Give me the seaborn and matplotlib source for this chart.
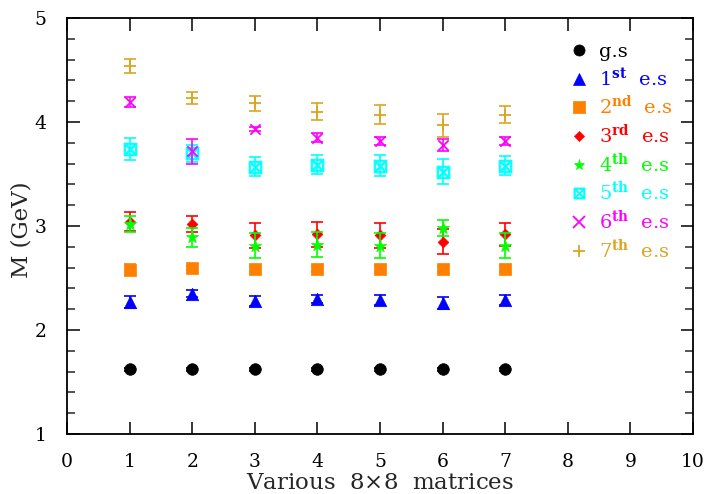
import numpy as np
import pandas as pd
import seaborn as sns
import matplotlib
matplotlib.use("Agg")
import matplotlib.pyplot as plt
from matplotlib.lines import Line2D

# Mass estimates (GeV) for the ground state and excited states,
# obtained from seven different 8x8 correlation matrices.
matrices = [1, 2, 3, 4, 5, 6, 7]

gs = [1.62, 1.62, 1.62, 1.62, 1.62, 1.62, 1.62]
gs_err = [0.01, 0.01, 0.01, 0.01, 0.01, 0.01, 0.01]

es1 = [2.27, 2.35, 2.28, 2.30, 2.29, 2.26, 2.29]
es1_err = [0.06, 0.03, 0.05, 0.04, 0.05, 0.06, 0.05]

es2 = [2.58, 2.60, 2.59, 2.59, 2.59, 2.59, 2.59]
es2_err = [0.05, 0.02, 0.03, 0.03, 0.03, 0.03, 0.03]

es3 = [3.04, 3.02, 2.91, 2.92, 2.91, 2.85, 2.92]
es3_err = [0.09, 0.08, 0.12, 0.12, 0.12, 0.12, 0.11]

es4 = [3.02, 2.89, 2.81, 2.82, 2.81, 2.98, 2.81]
es4_err = [0.08, 0.09, 0.12, 0.12, 0.12, 0.08, 0.12]

es5 = [3.74, 3.70, 3.57, 3.59, 3.58, 3.52, 3.58]
es5_err = [0.11, 0.08, 0.09, 0.09, 0.10, 0.12, 0.09]

es6 = [4.19, 3.72, 3.93, 3.85, 3.82, 3.78, 3.82]
es6_err = [0.05, 0.12, 0.02, 0.04, 0.04, 0.06, 0.04]

es7 = [4.54, 4.23, 4.18, 4.10, 4.07, 3.97, 4.07]
es7_err = [0.07, 0.06, 0.07, 0.08, 0.09, 0.11, 0.08]

state_labels = [
    "g.s",
    r"1$^{\mathbf{st}}$  e.s",
    r"2$^{\mathbf{nd}}$  e.s",
    r"3$^{\mathbf{rd}}$  e.s",
    r"4$^{\mathbf{th}}$  e.s",
    r"5$^{\mathbf{th}}$  e.s",
    r"6$^{\mathbf{th}}$  e.s",
    r"7$^{\mathbf{th}}$  e.s",
]
state_colors = ["#000000", "#0000FF", "#FF8000", "#FF0000",
                "#00FF00", "#00FFFF", "#FF00FF", "#DAA520"]
state_markers = ["o", "^", "s", "D", "*", r"$\boxtimes$", "x", "+"]
marker_sizes = [70, 80, 70, 30, 85, 85, 55, 70]

values = [gs, es1, es2, es3, es4, es5, es6, es7]
errors = [gs_err, es1_err, es2_err, es3_err, es4_err, es5_err, es6_err, es7_err]

sns.set_theme(style="ticks")
plt.rcParams["font.family"] = ["DejaVu Serif"]
plt.rcParams["mathtext.fontset"] = "dejavuserif"

fig = plt.figure(figsize=(7.07, 4.94), dpi=100)
ax = fig.add_axes([0.0948, 0.1215, 0.8855, 0.8421])

for i, (vals, errs) in enumerate(zip(values, errors)):
    df = pd.DataFrame({"matrix": matrices, "M": vals, "err": errs})
    ax.errorbar(df["matrix"], df["M"], yerr=df["err"], fmt="none",
                ecolor=state_colors[i], elinewidth=1.2, capsize=4.5,
                capthick=1.2, zorder=2 + i)
    if state_markers[i] in ("x", "+"):
        kw = dict(linewidth=1.3)
    elif state_markers[i].startswith("$"):
        kw = dict(edgecolor=state_colors[i], linewidth=0.6)
    else:
        kw = dict(edgecolor=state_colors[i], linewidth=0.5)
    sns.scatterplot(data=df, x="matrix", y="M", marker=state_markers[i],
                    color=state_colors[i], s=marker_sizes[i], ax=ax,
                    zorder=3 + i, legend=False, **kw)

ax.set_xlim(0, 10)
ax.set_ylim(1, 5)
ax.set_xticks(np.arange(0, 11, 1))
ax.set_yticks(np.arange(1, 6, 1))
ax.set_yticks(np.arange(1, 5.01, 0.2), minor=True)

ax.tick_params(axis="both", which="major", direction="in", length=9, width=1.1,
               top=True, right=True, labelsize=13.5, colors="black")
ax.tick_params(axis="y", which="minor", direction="in", length=5.5, width=1.1,
               right=True, left=True)
ax.tick_params(axis="y", which="major", pad=15)
ax.tick_params(axis="x", which="major", pad=14)
for sp in ax.spines.values():
    sp.set_linewidth(1.3)
    sp.set_color("black")

ax.set_xlabel(r"Various  8$\times$8  matrices", fontsize=16.5)
ax.xaxis.set_label_coords(0.5, -0.092)
ax.set_ylabel("M (GeV)", fontsize=16.5)
ax.yaxis.set_label_coords(-0.055, 0.49)

handles = []
for c, m in zip(state_colors, state_markers):
    if m in ("x", "+"):
        h = Line2D([], [], linestyle="none", marker=m, color=c,
                   markersize=8, markeredgewidth=1.3)
    else:
        h = Line2D([], [], linestyle="none", marker=m, color=c,
                   markerfacecolor=c, markeredgecolor=c,
                   markersize=5 if m == "D" else 8, markeredgewidth=0.5)
    handles.append(h)

leg = ax.legend(handles, state_labels, loc="upper left",
                bbox_to_anchor=(0.787, 0.963), frameon=False, fontsize=14,
                handlelength=1.0, handletextpad=0.5, labelspacing=0.28,
                labelcolor=state_colors, borderpad=0)

fig.savefig("out.png", dpi=100)
